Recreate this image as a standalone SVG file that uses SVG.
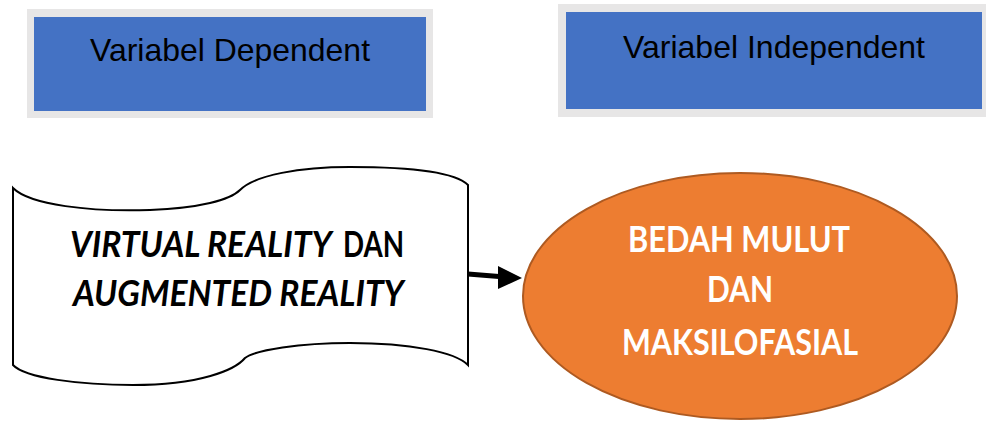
<svg xmlns="http://www.w3.org/2000/svg" width="986" height="421" viewBox="0 0 986 421">
<style>
.frame{fill:#E7E6E6}
.blue{fill:#4472C4}
.hdr{font-family:"Liberation Sans",Arial,sans-serif;font-size:32px;fill:#000;text-anchor:middle}
.big{font-family:Lato,"Open Sans",sans-serif;font-weight:bold;font-size:36px;text-anchor:middle}
.st{text-anchor:start}
</style>
<g id="dep">
<rect class="frame" x="27" y="9" width="406" height="109"/>
<rect class="blue" x="34" y="17" width="392" height="94"/>
<text class="hdr" x="230" y="61" textLength="280" lengthAdjust="spacingAndGlyphs">Variabel Dependent</text>
</g>
<g id="indep">
<rect class="frame" x="558" y="4" width="428" height="113"/>
<rect class="blue" x="566" y="12" width="416" height="97"/>
<text class="hdr" x="774" y="58" textLength="302" lengthAdjust="spacingAndGlyphs">Variabel Independent</text>
</g>
<g id="wave">
<path d="M13,188 C30,205 90,212 150,210 C200,208 230,200 240,190 C255,175 300,167 350,167 C410,167 455,172 468,185 L468,365 C455,352 410,343 350,343 C300,343 255,350 245,358 C235,370 200,385 133,385 C80,385 25,378 13,365 Z" fill="#fff" stroke="#000" stroke-width="2"/>
<text class="big st" x="70" y="257" font-size="33" font-style="italic" textLength="262" lengthAdjust="spacingAndGlyphs">VIRTUAL REALITY</text>
<text class="big st" x="343" y="257" textLength="61" lengthAdjust="spacingAndGlyphs">DAN</text>
<text class="big st" x="73" y="306" font-style="italic" textLength="331" lengthAdjust="spacingAndGlyphs">AUGMENTED REALITY</text>
</g>
<g id="bedah">
<ellipse cx="740" cy="296" rx="217" ry="123" fill="#ED7D31" stroke="#AE5A21" stroke-width="2"/>
<text class="big" x="739" y="252" fill="#fff" textLength="222" lengthAdjust="spacingAndGlyphs">BEDAH MULUT</text>
<text class="big" x="740" y="302" fill="#fff" textLength="66" lengthAdjust="spacingAndGlyphs">DAN</text>
<text class="big" x="740" y="355" fill="#fff" textLength="236" lengthAdjust="spacingAndGlyphs">MAKSILOFASIAL</text>
</g>
<g id="connectors">
<line x1="468" y1="274" x2="499" y2="276.5" stroke="#000" stroke-width="5"/>
<path d="M498,266 L522,278 L498,289 Z" fill="#000"/>
</g>
</svg>
